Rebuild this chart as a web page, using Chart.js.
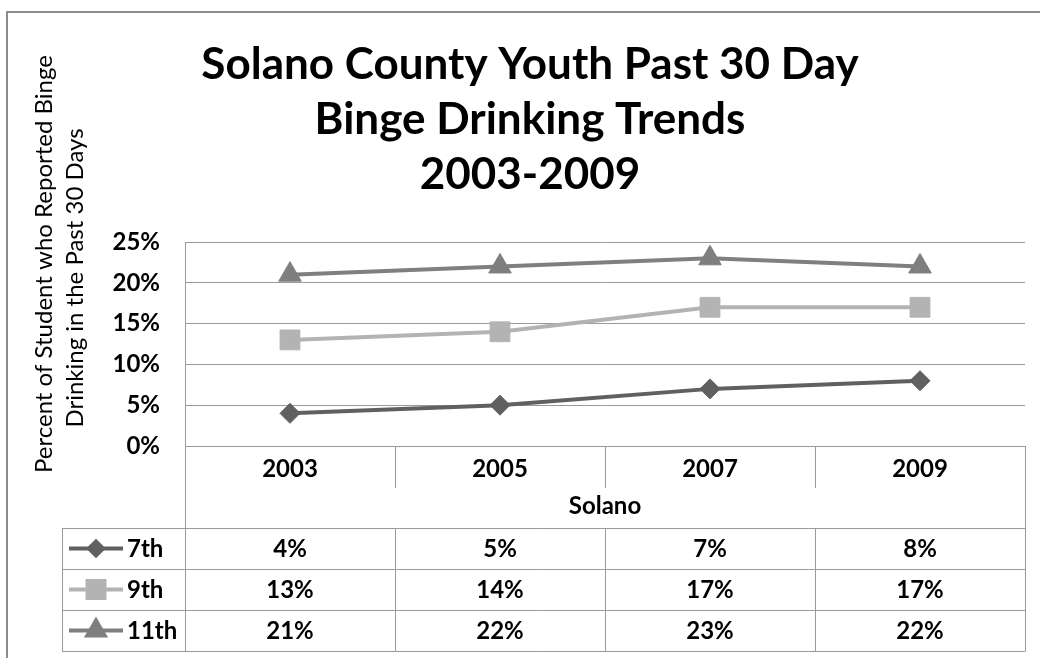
<!DOCTYPE html>
<html>
<head>
<meta charset="utf-8">
<title>Solano County Youth Past 30 Day Binge Drinking Trends</title>
<script src="https://cdn.jsdelivr.net/npm/chart.js@4.4.1/dist/chart.umd.min.js"></script>
<style>
  html, body { margin: 0; padding: 0; background: #fff; }
  #wrap { width: 1040px; height: 658px; position: relative; }
</style>
</head>
<body>
<div id="wrap"><canvas id="chart" width="1040" height="658"></canvas></div>
<script>
// Chart data
const years = ['2003', '2005', '2007', '2009'];
const grade7 = [4, 5, 7, 8];
const grade9 = [13, 14, 17, 17];
const grade11 = [21, 22, 23, 22];
const seriesNames = ['7th', '9th', '11th'];
const titleLines = ['Solano County Youth Past 30 Day', 'Binge Drinking Trends', '2003-2009'];
const yTitleLines = ['Percent of Student who Reported Binge', 'Drinking in the Past 30 Days'];
const xTitle = 'Solano';

const gridColor = '#9a9a9a';
const fontFamily = 'Lato, "Open Sans", sans-serif';

Chart.defaults.font.family = fontFamily;
Chart.defaults.color = '#000';

// px helper for crisp 1px lines
function crisp(v) { return Math.round(v) + 0.5; }

// Draws the outer frame, the rotated y title and the data table under the plot
const tablePlugin = {
    id: 'dataTable',
    beforeDraw(chart) {
        const ctx = chart.ctx;
        ctx.save();
        ctx.fillStyle = '#fff';
        ctx.fillRect(0, 0, chart.width, chart.height);
        ctx.strokeStyle = '#8c8c8c';
        ctx.lineWidth = 2;
        ctx.beginPath();
        ctx.moveTo(7, chart.height);
        ctx.lineTo(7, 12);
        ctx.lineTo(chart.width, 12);
        ctx.stroke();
        ctx.restore();
    },
    afterDraw(chart) {
        const ctx = chart.ctx;
        const area = chart.chartArea;
        const x = chart.scales.x;
        const half = (x.getPixelForValue(1) - x.getPixelForValue(0)) / 2;
        const headTop = area.bottom;
        const headBottom = headTop + 42;
        const rowTop = x.bottom;
        const rowH = 41;
        const legendLeft = 62;
        const tableBottom = rowTop + rowH * seriesNames.length;

        ctx.save();

        // y axis title, two rotated lines
        ctx.fillStyle = '#000';
        ctx.font = '24px ' + fontFamily;
        ctx.textAlign = 'center';
        ctx.textBaseline = 'middle';
        const yTitlePos = [[44, 264], [75, 278]];
        yTitleLines.forEach((line, i) => {
            ctx.save();
            ctx.translate(yTitlePos[i][0], yTitlePos[i][1]);
            ctx.rotate(-Math.PI / 2);
            ctx.fillText(line, 0, 0);
            ctx.restore();
        });

        // table lines
        ctx.strokeStyle = gridColor;
        ctx.lineWidth = 1;
        ctx.beginPath();
        // outer verticals
        ctx.moveTo(crisp(area.left), headTop);
        ctx.lineTo(crisp(area.left), tableBottom);
        ctx.moveTo(crisp(area.right), headTop);
        ctx.lineTo(crisp(area.right), tableBottom);
        ctx.moveTo(crisp(legendLeft), rowTop);
        ctx.lineTo(crisp(legendLeft), tableBottom);
        // column separators
        for (let i = 1; i < years.length; i++) {
            const px = crisp(x.getPixelForValue(i) - half);
            ctx.moveTo(px, headTop);
            ctx.lineTo(px, headBottom);
            ctx.moveTo(px, rowTop);
            ctx.lineTo(px, tableBottom);
        }
        // row lines
        for (let r = 0; r <= seriesNames.length; r++) {
            const py = crisp(rowTop + r * rowH);
            ctx.moveTo(legendLeft, py);
            ctx.lineTo(area.right + 0.5, py);
        }
        ctx.stroke();

        // row contents
        chart.data.datasets.forEach((ds, r) => {
            const cy = rowTop + r * rowH + rowH / 2;
            // legend key
            ctx.strokeStyle = ds.borderColor;
            ctx.fillStyle = ds.borderColor;
            ctx.lineWidth = 4;
            ctx.beginPath();
            ctx.moveTo(69, cy);
            ctx.lineTo(123, cy);
            ctx.stroke();
            Chart.helpers.drawPoint(ctx, {
                pointStyle: ds.pointStyle,
                radius: ds.legendRadius,
                rotation: 0,
                borderWidth: 1
            }, 96, cy);
            ctx.fillStyle = '#000';
            ctx.font = 'bold 24px ' + fontFamily;
            ctx.textAlign = 'left';
            ctx.textBaseline = 'middle';
            ctx.fillText(ds.label, 127, cy + 1);
            // values
            ctx.textAlign = 'center';
            ds.data.forEach((v, i) => {
                ctx.fillText(v + '%', x.getPixelForValue(i), cy + 1);
            });
        });

        ctx.restore();
    }
};

const ctx = document.getElementById('chart').getContext('2d');

new Chart(ctx, {
    type: 'line',
    data: {
        labels: years,
        datasets: [
            {
                label: seriesNames[0],
                data: grade7,
                borderColor: '#606060',
                backgroundColor: '#606060',
                pointStyle: 'rectRot',
                pointRadius: 10,
                legendRadius: 7
            },
            {
                label: seriesNames[1],
                data: grade9,
                borderColor: '#b3b3b3',
                backgroundColor: '#b3b3b3',
                pointStyle: 'rect',
                pointRadius: 14,
                legendRadius: 12
            },
            {
                label: seriesNames[2],
                data: grade11,
                borderColor: '#7f7f7f',
                backgroundColor: '#7f7f7f',
                pointStyle: 'triangle',
                pointRadius: 13,
                legendRadius: 10
            }
        ].map(ds => Object.assign(ds, {
            borderWidth: 4,
            pointBorderWidth: 1,
            pointBackgroundColor: ds.borderColor,
            pointBorderColor: ds.borderColor,
            pointHoverRadius: ds.pointRadius,
            tension: 0,
            fill: false
        }))
    },
    options: {
        responsive: false,
        animation: false,
        layout: {
            padding: { top: 0, left: 35, right: 15, bottom: 130 }
        },
        plugins: {
            legend: { display: false },
            tooltip: { enabled: false },
            title: {
                display: true,
                text: titleLines,
                color: '#000',
                font: { size: 44, weight: 'bold', lineHeight: '55px' },
                padding: { top: 37, bottom: 40 }
            }
        },
        scales: {
            x: {
                offset: true,
                grid: { display: false, drawTicks: false },
                border: { display: false },
                ticks: {
                    padding: 9,
                    font: { size: 24, weight: 'bold' },
                    color: '#000'
                },
                title: {
                    display: true,
                    text: xTitle,
                    font: { size: 24, weight: 'bold' },
                    color: '#000',
                    padding: { top: 0, bottom: 7 }
                },
                afterFit(scale) { scale.height = 82; }
            },
            y: {
                min: 0,
                max: 25,
                grid: { color: gridColor, drawTicks: false, lineWidth: 1 },
                border: { display: true, color: gridColor, width: 1 },
                ticks: {
                    stepSize: 5,
                    padding: 25,
                    font: { size: 24, weight: 'bold' },
                    color: '#000',
                    callback: v => v + '%'
                },
                afterFit(scale) { scale.width = 150; }
            }
        }
    },
    plugins: [tablePlugin]
});
</script>
</body>
</html>
